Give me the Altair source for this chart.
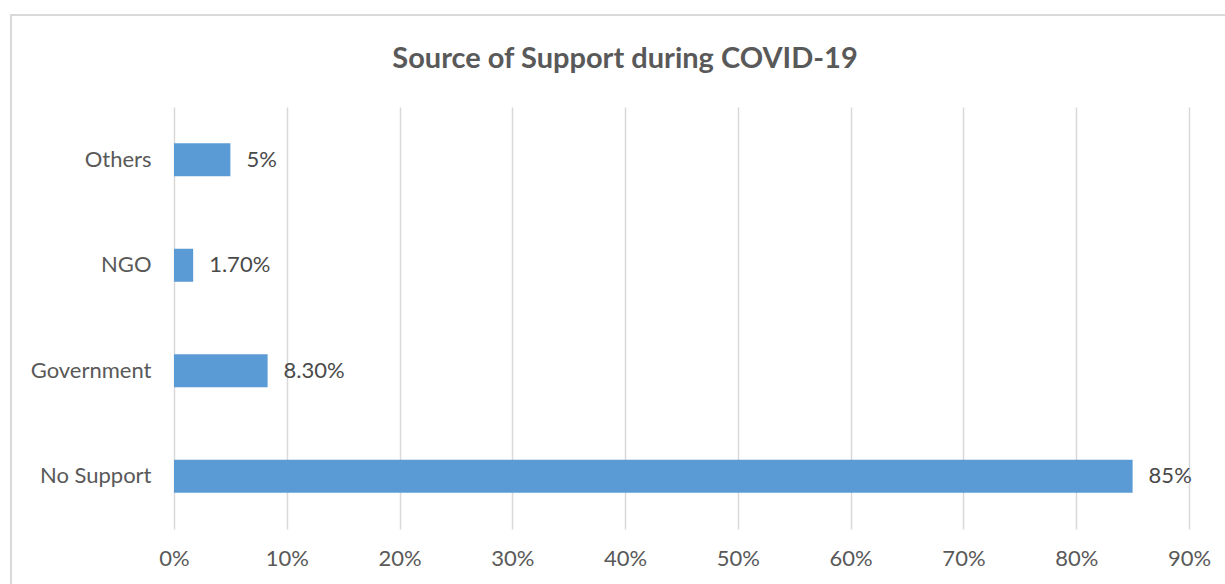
import altair as alt
import pandas as pd

# Survey categories and the share of respondents in each
categories = ["Others", "NGO", "Government", "No Support"]
shares = [0.05, 0.017, 0.083, 0.85]
share_labels = ["5%", "1.70%", "8.30%", "85%"]
x_ticks = [0, 0.1, 0.2, 0.3, 0.4, 0.5, 0.6, 0.7, 0.8, 0.9]
chart_title = "Source of Support during COVID-19"

df = pd.DataFrame({"source": categories, "share": shares, "label": share_labels})

FONT = "Lato"
BAR = "#5B9BD5"
GRID = "#D9D9D9"
TEXT = "#595959"

y_enc = alt.Y(
    "source:N",
    sort=categories,
    title=None,
    scale=alt.Scale(paddingInner=0.687, paddingOuter=0.3435),
    axis=alt.Axis(domain=False, ticks=False, labelPadding=23, labelFontSize=22,
                  labelColor=TEXT, labelFont=FONT, grid=False),
)

x_enc = alt.X(
    "share:Q",
    title=None,
    scale=alt.Scale(domain=[0, 0.9], nice=False),
    axis=alt.Axis(values=x_ticks, format=".0%", domain=False, ticks=False,
                  grid=True, gridColor=GRID, gridWidth=1.5,
                  labelPadding=19, labelFontSize=22, labelColor=TEXT,
                  labelFont=FONT, labelFlush=False),
)

bars = alt.Chart(df).mark_bar(color=BAR).encode(x=x_enc, y=y_enc)

labels = alt.Chart(df).mark_text(
    align="left", baseline="middle", dx=16, fontSize=22, font=FONT, color="#4a4a4a"
).encode(x="share:Q", y=alt.Y("source:N", sort=categories), text="label:N")

# Light frame around the whole chart
frame = alt.Chart(df).mark_rect(
    fill=None, stroke=GRID, strokeWidth=1.5
).encode(
    x=alt.value(-163), x2=alt.value(1060),
    y=alt.value(-92), y2=alt.value(490),
)

# Chart heading, placed above the plot area
heading = alt.Chart(pd.DataFrame({"t": [chart_title]})).mark_text(
    font=FONT, fontSize=29, fontWeight="bold", color=TEXT,
    align="center", baseline="middle",
).encode(x=alt.value(451), y=alt.value(-48), text="t:N")

chart = alt.layer(frame, bars, labels, heading).properties(
    width=1015,
    height=422,
    padding={"left": 174, "top": 107, "right": 36, "bottom": 55},
    autosize=alt.AutoSizeParams(type="none"),
    background="white",
).configure_view(stroke=None)

chart.save("out.html", embed_options={"renderer": "svg", "actions": False})
